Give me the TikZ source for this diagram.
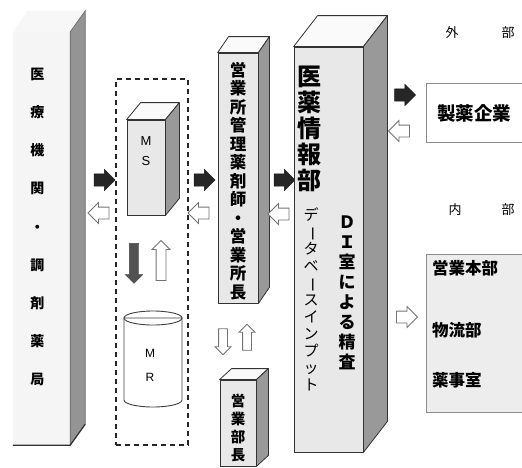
\documentclass[tikz,border=0pt]{standalone}
\usepackage{fontspec}
\newfontfamily\jp{Noto Sans CJK JP}
\newfontfamily\arialf{Liberation Sans}
\usetikzlibrary{shapes.arrows,calc}
\newcommand\cubefaces[3]{%
  \filldraw[topf] (#1.north west) -- ++(#2,-#3) -- ($(#1.north east)+(#2,-#3)$) -- (#1.north east) -- cycle;
  \filldraw[sidef] (#1.north east) -- ++(#2,-#3) -- ($(#1.south east)+(#2,-#3)$) -- (#1.south east) -- cycle;
}
\newcommand\vbar{\rotatebox[origin=c]{-90}{ー}}
\tikzset{
  front/.style={draw=black!80, line width=0.8pt, fill=black!9, inner sep=0pt},
  sidef/.style={draw=black!80, line width=0.8pt, fill=black!40, line join=round},
  topf/.style={draw=black!80, line width=0.8pt, fill=black!2, line join=round},
  slabfront/.style={fill=black!4, inner sep=0pt},
  slabside/.style={fill=black!42, draw=black!60, line width=0.6pt},
  slabtop/.style={fill=black!3},
  vtxt/.style={align=center, inner sep=0pt},
  barrow/.style={single arrow, draw=black!90, fill=black!85, minimum height=21pt, minimum width=21pt,
    single arrow head extend=4.5pt, inner sep=6pt},
  warrow/.style={single arrow, draw=black!55, fill=white, line width=0.8pt, minimum height=21pt, minimum width=20pt,
    single arrow head extend=4.5pt, inner sep=5.5pt},
  dashbox/.style={draw=black!85, line width=1.4pt, dash pattern=on 5pt off 4pt, inner sep=0pt},
  plainbox/.style={draw=black!45, line width=0.9pt, inner sep=0pt},
}
\begin{document}
\begin{tikzpicture}[x=1pt,y=-1pt]
\useasboundingbox (0,0) rectangle (522,467);
\fill[white] (0,0) rectangle (522,467);

% left slab
\node[slabfront, minimum width=57pt, minimum height=413pt] (slab) at (41.5,238.5) {};
\fill[slabtop] (slab.north west) -- ++(15,-21) -- ($(slab.north east)+(15,-21)$) -- (slab.north east) -- cycle;
\filldraw[slabside] (slab.north east) -- ++(15,-21) -- ($(slab.south east)+(15,-21)$) -- (slab.south east) -- cycle;
\draw[black!80, line width=1.2pt] (slab.south west) -- (slab.south east) -- ++(15,-21);
\node[vtxt, font={\jp\bfseries\fontsize{14}{38.2}\selectfont}] (slabtxt) at (37.5,227) {医\\療\\機\\関\\・\\調\\剤\\薬\\局};

% arrows left
\node[barrow] (a1) at (101.5,180) {};
\node[warrow, shape border rotate=180] (a2) at (101.5,213) {};

% dashed group
\node[dashbox, minimum width=72pt, minimum height=366pt] (grp) at (152,262) {};

% MS
\node[front, minimum width=38pt, minimum height=95pt] (ms) at (146,167.5) {};
\cubefaces{ms}{14}{17}
\node[vtxt, font={\arialf\fontsize{13}{20}\selectfont}] (mstxt) at (146,151) {M\\S};

% vertical arrows in group
\node[barrow, fill=black!68, draw=black!72, shape border rotate=270, minimum height=40pt, minimum width=17pt, single arrow head extend=4pt, inner sep=4.5pt] (a3) at (134,261) {};
\node[warrow, shape border rotate=90, minimum height=40pt, minimum width=17pt, single arrow head extend=4pt, inner sep=4.5pt] (a4) at (161,263) {};

% MR cylinder
\coordinate (mr) at (153,359);
\filldraw[draw=black!75, fill=white, line width=0.9pt] (124,318) -- (124,400) arc[start angle=180, end angle=0, x radius=29, y radius=7] -- (182,318) -- cycle;
\draw[black!75, line width=0.9pt] (153,318) ellipse [x radius=29, y radius=7];
\node[vtxt, font={\arialf\fontsize{12}{24}\selectfont}] (mrtxt) at (150,365) {M\\R};

% arrows group -> office
\node[barrow] (a5) at (201.5,180) {};
\node[warrow, shape border rotate=180] (a6) at (201.5,213) {};

% office box
\node[front, minimum width=40pt, minimum height=250pt] (off) at (238,178) {};
\cubefaces{off}{11}{16}
\node[vtxt, font={\jp\bfseries\fontsize{16.5}{18.5}\selectfont}] (offtxt) at (238,181) {営\\業\\所\\管\\理\\薬\\剤\\師\\・\\営\\業\\所\\長};

% arrows office <-> manager
\node[warrow, shape border rotate=270, minimum height=26pt, minimum width=15pt, single arrow head extend=3.5pt, inner sep=4pt] (a7) at (223,339.5) {};
\node[warrow, shape border rotate=90, minimum height=26pt, minimum width=15pt, single arrow head extend=3.5pt, inner sep=4pt] (a8) at (247,339.5) {};

% manager box
\node[front, minimum width=36pt, minimum height=86pt] (mgr) at (238,423) {};
\cubefaces{mgr}{12}{11}
\node[vtxt, font={\jp\bfseries\fontsize{14.5}{18}\selectfont}] (mgrtxt) at (238,428) {営\\業\\部\\長};

% arrows office -> DI
\node[barrow] (a9) at (281.5,180) {};
\node[warrow, shape border rotate=180] (a10) at (281.5,214) {};

% big box
\node[front, minimum width=69pt, minimum height=405pt] (di) at (328.5,249.5) {};
\cubefaces{di}{24}{31}
\node[vtxt, font={\jp\bfseries\fontsize{24}{26}\selectfont}] (ditit) at (309,129) {医\\薬\\情\\報\\部};
\node[vtxt, font={\jp\fontsize{15}{17}\selectfont}] (ditxt1) at (311,299) {デ\\\vbar\\タ\\ベ\\\vbar\\ス\\イ\\ン\\プ\\ッ\\ト};
\node[vtxt, font={\jp\bfseries\fontsize{17}{20}\selectfont}] (ditxt2) at (347,293) {Ｄ\\Ｉ\\室\\に\\よ\\る\\精\\査};

% right side
\node[font={\jp\fontsize{13}{13}\selectfont}] (ext1) at (452,33) {外};
\node[font={\jp\fontsize{13}{13}\selectfont}] (ext2) at (508,33) {部};
\node[barrow] (a11) at (402,95) {};
\node[warrow, shape border rotate=180] (a12) at (402,131) {};
\node[plainbox, fill=white, minimum width=97pt, minimum height=59pt] (pharma) at (474.5,112.5) {};
\node[font={\jp\bfseries\fontsize{18.5}{18.5}\selectfont}] (pharmatxt) at (474,113) {製薬企業};

\node[font={\jp\fontsize{13}{13}\selectfont}] (int1) at (455,210) {内};
\node[font={\jp\fontsize{13}{13}\selectfont}] (int2) at (508,210) {部};
\node[warrow] (a13) at (404,317) {};
\node[plainbox, fill=black!7, minimum width=96pt, minimum height=158pt] (inner) at (474,333) {};
\node[anchor=west, inner sep=0pt, font={\jp\bfseries\fontsize{16.5}{16.5}\selectfont}] (i1) at (432,268) {営業本部};
\node[anchor=west, inner sep=0pt, font={\jp\bfseries\fontsize{16.5}{16.5}\selectfont}] (i2) at (432,330) {物流部};
\node[anchor=west, inner sep=0pt, font={\jp\bfseries\fontsize{16.5}{16.5}\selectfont}] (i3) at (432,380) {薬事室};
\end{tikzpicture}
\end{document}
